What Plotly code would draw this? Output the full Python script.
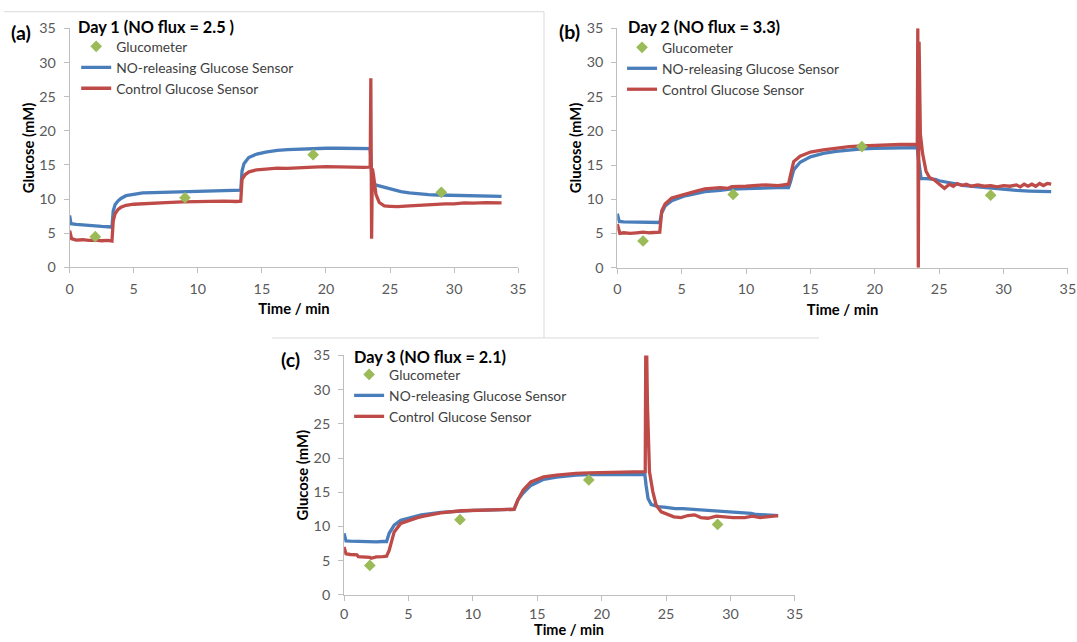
import plotly.graph_objects as go

# ---------------- data: Day 1 ----------------
d1_no_t = [0, 0.1, 0.5, 1.0, 1.5, 2.0, 2.5, 3.0, 3.3, 3.4, 3.55, 3.78, 4.0, 4.4, 5.0, 5.7, 6.5, 7.5,
           8.8, 10.0, 11.0, 12.0, 13.0, 13.35, 13.45, 13.6, 13.97, 14.6, 15.3, 16.2, 17.0, 18.0, 19.0,
           20.0, 21.0, 22.0, 23.0, 23.45, 23.6, 23.75, 24.0, 24.55, 25.2, 25.85, 26.5, 27.2, 28.0, 28.7,
           29.5, 30.8, 32.0, 33.0, 33.7]
d1_no_v = [7.6, 6.4, 6.3, 6.2, 6.15, 6.1, 6.0, 5.95, 5.9, 8.3, 9.2, 9.75, 10.1, 10.5, 10.7, 10.9, 10.95,
           11.0, 11.05, 11.1, 11.15, 11.2, 11.25, 11.3, 14.1, 15.2, 16.1, 16.6, 16.9, 17.15, 17.25, 17.35,
           17.4, 17.45, 17.45, 17.45, 17.4, 17.4, 12.6, 12.2, 12.0, 11.7, 11.4, 11.1, 10.9, 10.75, 10.65,
           10.6, 10.55, 10.5, 10.45, 10.45, 10.4]
d1_ctl_t = [0, 0.15, 0.5, 1.0, 1.5, 2.0, 2.5, 3.0, 3.3, 3.4, 3.55, 3.78, 4.0, 4.4, 5.0, 5.7, 6.5, 7.5,
            8.8, 10.0, 11.0, 12.0, 13.0, 13.35, 13.45, 13.7, 14.0, 14.6, 15.3, 16.2, 17.0, 18.0, 19.0,
            20.0, 21.0, 22.0, 23.0, 23.45, 23.5, 23.56, 23.62, 23.7, 23.9, 24.16, 24.55, 25.0, 25.6,
            26.5, 27.2, 28.0, 29.3, 30.0, 30.8, 31.5, 32.5, 33.7]
d1_ctl_v = [5.4, 4.2, 4.0, 4.05, 3.95, 4.0, 3.9, 3.95, 3.85, 6.8, 7.9, 8.5, 8.8, 9.1, 9.25, 9.35, 9.4,
            9.5, 9.6, 9.65, 9.6, 9.7, 9.65, 9.7, 12.9, 13.6, 14.0, 14.3, 14.4, 14.55, 14.5, 14.65, 14.7,
            14.75, 14.7, 14.75, 14.65, 14.7, 27.7, 4.2, 14.5, 13.6, 10.7, 9.5, 9.0, 8.95, 8.9, 9.0, 9.1,
            9.15, 9.3, 9.3, 9.45, 9.4, 9.5, 9.45]
d1_meter = [4.5, 10.2, 16.5, 11.0]

# ---------------- data: Day 2 ----------------
d2_no_t = [0, 0.15, 0.5, 1, 1.5, 2, 2.5, 3, 3.3, 3.45, 3.71, 4.23, 5.27, 6.0, 6.8, 8.0, 8.9, 10.0, 11.5,
           12.5, 13.3, 13.45, 13.7, 14.2, 15.0, 16.0, 17.0, 18.0, 19.0, 20.0, 21.0, 22.0, 23.0, 23.3,
           23.38, 23.6, 24.0, 24.7, 25.0, 26.0, 27.0, 28.0, 29.0, 30.0, 31.0, 32.0, 33.0, 33.7]
d2_no_v = [7.9, 6.75, 6.7, 6.7, 6.65, 6.7, 6.65, 6.6, 6.6, 8.0, 9.0, 9.8, 10.5, 10.8, 11.1, 11.3, 11.5,
           11.55, 11.7, 11.7, 11.7, 12.5, 14.3, 15.4, 16.2, 16.7, 17.0, 17.2, 17.35, 17.45, 17.5, 17.5,
           17.55, 17.55, 16.0, 13.0, 13.0, 12.9, 12.7, 12.3, 12.0, 11.8, 11.6, 11.4, 11.3, 11.2, 11.15, 11.1]
d2_ctl_t = [0, 0.2, 0.5, 1, 1.5, 2, 2.5, 3, 3.3, 3.45, 3.71, 4.23, 5.27, 6.0, 6.8, 8.0, 8.6, 8.9, 10.0,
            11.5, 12.5, 13.3, 13.45, 13.7, 14.2, 15.0, 16.0, 17.0, 18.0, 19.0, 20.0, 21.0, 22.0, 23.0,
            23.3, 23.34, 23.38, 23.44, 23.5, 23.54, 23.72, 23.98, 24.24, 24.63, 25.02, 25.41, 25.8, 26.1,
            26.4, 26.8, 27.1, 27.5, 28.0, 28.5, 29.0, 29.5, 30.0, 30.5, 31.0, 31.3, 31.6, 31.9, 32.2,
            32.5, 32.8, 33.1, 33.4, 33.7]
d2_ctl_v = [6.4, 5.0, 5.1, 5.0, 5.1, 5.2, 5.1, 5.15, 5.2, 8.3, 9.3, 10.2, 10.8, 11.1, 11.5, 11.7, 11.6,
            11.85, 11.9, 12.1, 12.0, 12.2, 13.5, 15.5, 16.3, 16.9, 17.2, 17.5, 17.7, 17.8, 17.9, 17.9,
            18.0, 18.0, 18.0, 35.0, 0.0, 33.0, 24.0, 19.5, 16.6, 14.1, 13.2, 12.8, 12.2, 11.6, 12.2,
            11.9, 12.3, 12.0, 12.2, 11.9, 12.1, 11.9, 12.0, 11.8, 12.0, 11.9, 12.1, 11.8, 12.2, 11.9,
            12.2, 11.9, 12.3, 12.0, 12.3, 12.2]
d2_meter = [3.9, 10.7, 17.7, 10.6]

# ---------------- data: Day 3 ----------------
d3_no_t = [0, 0.15, 0.5, 1.0, 1.5, 2.0, 2.5, 3.0, 3.3, 3.5, 3.89, 4.4, 5.0, 5.7, 6.0, 7.5, 9.1, 10.0,
           11.0, 12.0, 13.2, 13.5, 13.9, 14.5, 15.5, 16.5, 17.5, 18.0, 19.0, 20.0, 21.0, 22.0, 23.0,
           23.35, 23.45, 23.6, 23.85, 24.4, 25.0, 25.7, 26.3, 27.0, 27.6, 28.3, 29.0, 29.5, 30.3, 31.0,
           31.6, 32.0, 32.8, 33.7]
d3_no_v = [9.0, 7.9, 7.85, 7.8, 7.8, 7.7, 7.75, 7.8, 7.8, 9.0, 10.2, 10.9, 11.2, 11.55, 11.7, 12.05,
           12.3, 12.35, 12.4, 12.45, 12.5, 13.9, 14.9, 16.0, 16.9, 17.2, 17.45, 17.5, 17.6, 17.6, 17.65,
           17.6, 17.7, 17.6, 16.0, 14.1, 13.2, 12.9, 12.8, 12.6, 12.6, 12.5, 12.5, 12.3, 12.3, 12.15,
           12.1, 12.0, 11.9, 11.75, 11.7, 11.6]
d3_ctl_t = [0, 0.15, 0.5, 1.0, 1.1, 1.5, 2.0, 2.1, 2.5, 3.0, 3.3, 3.5, 3.89, 4.4, 5.0, 5.7, 6.2, 7.5,
            9.1, 10.0, 11.0, 12.0, 13.2, 13.5, 13.9, 14.5, 15.5, 16.5, 17.5, 18.0, 19.0, 20.0, 21.0,
            22.0, 23.0, 23.38, 23.42, 23.5, 23.55, 23.64, 23.71, 23.97, 24.23, 24.62, 25.14, 25.6,
            26.17, 26.7, 27.21, 27.7, 28.25, 28.9, 29.54, 30.2, 31.1, 31.7, 32.3, 33.0, 33.7]
d3_ctl_v = [7.0, 6.0, 5.9, 5.85, 5.6, 5.6, 5.5, 5.35, 5.55, 5.6, 5.65, 6.5, 9.2, 10.45, 10.9, 11.3,
            11.5, 12.0, 12.3, 12.35, 12.4, 12.45, 12.5, 13.9, 15.3, 16.5, 17.25, 17.5, 17.7, 17.75,
            17.85, 17.9, 17.9, 18.0, 18.0, 18.0, 35.0, 35.0, 28.0, 22.0, 18.0, 15.1, 13.1, 12.15, 11.7,
            11.4, 11.3, 11.6, 11.7, 11.3, 11.2, 11.5, 11.4, 11.3, 11.3, 11.5, 11.3, 11.4, 11.6]
d3_meter = [4.3, 11.0, 16.8, 10.3]

meter_t = [2, 9, 19, 29]

panels = [
    ("(a)", "Day 1 (NO flux = 2.5 )", d1_no_t, d1_no_v, d1_ctl_t, d1_ctl_v, d1_meter),
    ("(b)", "Day 2 (NO flux = 3.3)", d2_no_t, d2_no_v, d2_ctl_t, d2_ctl_v, d2_meter),
    ("(c)", "Day 3 (NO flux = 2.1)", d3_no_t, d3_no_v, d3_ctl_t, d3_ctl_v, d3_meter),
]

W, H = 1077, 642
FONT = "Lato"
BLUE = "#4a7ebb"
RED = "#be4b48"
GREEN = "#9bbb59"
AXIS = "#bfbfbf"

# plot-area boxes in pixels: left, right, top, bottom
boxes = [(66.4, 520.0, 20.0, 265.4), (620.2, 1075.9, 19.7, 265.7), (343.9, 799.8, 355.9, 601.8)]
# legend anchor (left px, top px)
legend_pos = [(73, 22.5), (625, 23.5), (349, 359.5)]
# panel letter and title centres (px)
letter_pos = [(17.5, 23.8), (571.5, 22.7), (290, 359.9)]
title_pos = [(153.4, 17.6), (707.5, 17.6), (430.4, 356.9)]
# x-axis title of the lower panel sits close to the page bottom
bottom_title_y = 637


def px_x(v):
    return v / W


def px_y(v):
    return 1 - v / H


fig = go.Figure()
layout = dict(
    width=W, height=H, margin=dict(l=0, r=0, t=0, b=0),
    paper_bgcolor="white", plot_bgcolor="white",
    font=dict(family=FONT, color="#404040"),
    annotations=[], shapes=[],
)

for i, (letter, title, nt, nv, ct, cv, meter) in enumerate(panels):
    sfx = "" if i == 0 else str(i + 1)
    xa, ya = "x" + sfx, "y" + sfx
    leg = "legend" + sfx
    fig.add_trace(go.Scatter(x=nt, y=nv, mode="lines", name="NO-releasing Glucose Sensor",
                             line=dict(color=BLUE, width=3.3), xaxis=xa, yaxis=ya, legend=leg,
                             legendrank=2))
    fig.add_trace(go.Scatter(x=ct, y=cv, mode="lines", name="Control Glucose Sensor",
                             line=dict(color=RED, width=3.3), xaxis=xa, yaxis=ya, legend=leg,
                             legendrank=3))
    fig.add_trace(go.Scatter(x=meter_t, y=meter, mode="markers", name="Glucometer",
                             marker=dict(symbol="diamond", color=GREEN, size=9),
                             xaxis=xa, yaxis=ya, legend=leg, legendrank=1))

    l, r, t, b = boxes[i]
    common = dict(range=[0, 35], dtick=5, showline=True, linecolor=AXIS, linewidth=1,
                  ticks="outside", ticklen=5, tickcolor=AXIS, showgrid=False, zeroline=False,
                  tickfont=dict(family=FONT, size=14.3, color="#595959"), fixedrange=True)
    xtitle = "<b>Time / min</b>" if i < 2 else ""
    layout["xaxis" + sfx] = dict(common, domain=[px_x(l), px_x(r)], anchor=ya,
                                 ticklabelstandoff=3 if i < 2 else 1,
                                 title=dict(text=xtitle, standoff=8,
                                            font=dict(family=FONT, size=14.8, color="#000")))
    layout["yaxis" + sfx] = dict(common, domain=[px_y(b), px_y(t)], anchor=xa,
                                 ticklabelstandoff=5,
                                 title=dict(text="<b>Glucose (mM)</b>", standoff=1,
                                            font=dict(family=FONT, size=14.8, color="#000")))
    lx, ly = legend_pos[i]
    layout[leg] = dict(x=px_x(lx), y=px_y(ly), xanchor="left", yanchor="top",
                       bgcolor="rgba(0,0,0,0)", borderwidth=0, traceorder="normal",
                       font=dict(family=FONT, size=13.8, color="#404040"))
    cx, cy = letter_pos[i]
    layout["annotations"].append(dict(text="<b>%s</b>" % letter, x=px_x(cx), y=px_y(cy),
                                      xref="paper", yref="paper", showarrow=False,
                                      xanchor="center", yanchor="middle",
                                      font=dict(family=FONT, size=19.5, color="#000")))
    tx, ty = title_pos[i]
    layout["annotations"].append(dict(text="<b>%s</b>" % title, x=px_x(tx), y=px_y(ty),
                                      xref="paper", yref="paper", showarrow=False,
                                      xanchor="center", yanchor="middle",
                                      font=dict(family=FONT, size=16.3, color="#000")))

# x-axis title of panel (c), centred under its axis
l, r, _, _ = boxes[2]
layout["annotations"].append(dict(text="<b>Time / min</b>", x=px_x((l + r) / 2),
                                  y=px_y(bottom_title_y), xref="paper", yref="paper",
                                  showarrow=False, xanchor="center", yanchor="middle",
                                  font=dict(family=FONT, size=14.5, color="#000")))

# thin chart-area frames
frame = dict(type="line", xref="paper", yref="paper", line=dict(color="#d9d9d9", width=1))
layout["shapes"] = [
    dict(frame, x0=0, x1=px_x(546.1), y0=px_y(2.8), y1=px_y(2.8)),
    dict(frame, x0=px_x(546.1), x1=px_x(546.1), y0=px_y(2.8), y1=px_y(337.9)),
    dict(frame, x0=px_x(271.1), x1=px_x(824.2), y0=px_y(337.9), y1=px_y(337.9)),
]

fig.update_layout(**layout)
fig.write_html("out.html", config={"displayModeBar": False})
